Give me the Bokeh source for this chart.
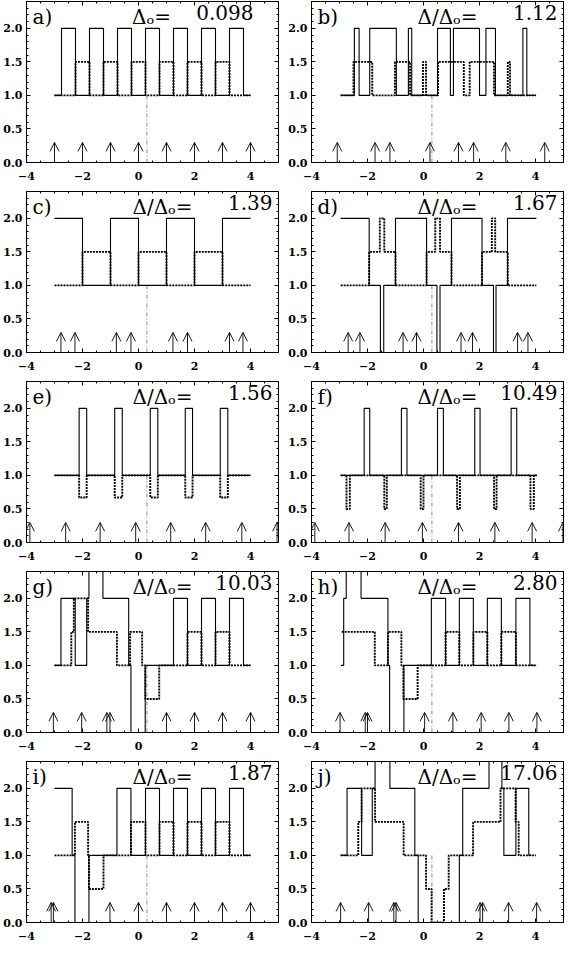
import numpy as np
from bokeh.plotting import figure
from bokeh.layouts import column, row
from bokeh.models import (Range1d, FixedTicker, LinearAxis, Label, Arrow, OpenHead,
                          ColumnDataSource, CustomJSTickFormatter, CustomLabelingPolicy)
from bokeh.embed import file_html
from bokeh.resources import INLINE

# ---------------- data ----------------
panel_letters = ["a)", "b)", "c)", "d)", "e)", "f)", "g)", "h)", "i)", "j)"]
ratio_prefix = ["Δₒ=", "Δ/Δₒ=", "Δ/Δₒ=", "Δ/Δₒ=", "Δ/Δₒ=",
                "Δ/Δₒ=", "Δ/Δₒ=", "Δ/Δₒ=", "Δ/Δₒ=", "Δ/Δₒ="]
ratio_values = ["0.098", "1.12", "1.39", "1.67", "1.56",
                "10.49", "10.03", "2.80", "1.87", "17.06"]

a_solid_x = [-3.0, -2.75, -2.25, -1.75, -1.25, -0.75, -0.25, 0.25, 0.75, 1.25, 1.75, 2.25, 2.75, 3.25, 3.75, 4.0]
a_solid_y = [1, 2, 1, 2, 1, 2, 1, 2, 1, 2, 1, 2, 1, 2, 1, 1]
a_dot_x = [-3.0, -2.25, -1.75, -1.25, -0.75, -0.25, 0.25, 0.75, 1.25, 1.75, 2.25, 2.75, 3.25, 4.0]
a_dot_y = [1, 1.5, 1, 1.5, 1, 1.5, 1, 1.5, 1, 1.5, 1, 1.5, 1, 1]
a_arrows = [-3.0, -2.0, -1.0, 0.0, 1.0, 2.0, 3.0, 4.0]

b_solid_x = [-2.96, -2.47, -2.3, -1.92, -0.97, -0.54, -0.42, 0.5, 0.96, 1.07, 2.0, 2.23, 2.57, 3.55, 3.69, 4.02]
b_solid_y = [1, 2, 1, 2, 1, 2, 1, 2, 1, 2, 1, 2, 1, 2, 1, 1]
b_dot_x = [-2.96, -2.5, -1.83, -1.02, -0.48, -0.02, 0.09, 0.52, 1.44, 1.65, 2.52, 3.01, 3.09, 4.02]
b_dot_y = [1, 1.5, 1, 1.5, 1, 1.5, 1, 1.5, 1, 1.5, 1, 1.5, 1, 1]
b_arrows = [-3.08, -1.73, -1.2, 0.23, 1.25, 1.79, 2.94, 4.33]

c_solid_x = [-3.0, -2.0, -1.0, 0.0, 1.0, 2.0, 3.0, 4.0]
c_solid_y = [2, 1, 2, 1, 2, 1, 2, 2]
c_dot_x = [-3.0, -2.0, -1.0, 0.0, 1.0, 2.0, 3.0, 4.0]
c_dot_y = [1, 1.5, 1, 1.5, 1, 1.5, 1, 1]
c_arrows = [-2.77, -2.27, -0.79, -0.27, 1.23, 1.75, 3.25, 3.73]

d_solid_x = [-2.96, -1.94, -1.54, -1.42, -1.0, 0.11, 0.48, 0.59, 1.0, 2.09, 2.5, 2.59, 3.0, 4.03]
d_solid_y = [2, 1, 0, 1, 2, 1, 0, 1, 2, 1, 0, 1, 2, 2]
d_dot_x = [-2.96, -1.94, -1.56, -1.4, -1.0, 0.11, 0.42, 0.59, 1.0, 2.09, 2.44, 2.56, 3.01, 4.03]
d_dot_y = [1, 1.5, 2, 1.5, 1, 1.5, 2, 1.5, 1, 1.5, 2, 1.5, 1, 1]
d_arrows = [-2.69, -2.27, -0.73, -0.25, 1.34, 1.75, 3.36, 3.73]

e_solid_x = [-3.0, -2.12, -1.85, -0.85, -0.58, 0.42, 0.69, 1.67, 1.93, 2.92, 3.19, 4.0]
e_solid_y = [1, 2, 1, 2, 1, 2, 1, 2, 1, 2, 1, 1]
e_dot_x = [-3.0, -2.12, -1.85, -0.85, -0.58, 0.42, 0.69, 1.67, 1.93, 2.92, 3.19, 4.0]
e_dot_y = [1, 0.67, 1, 0.67, 1, 0.67, 1, 0.67, 1, 0.67, 1, 1]
e_arrows = [-3.88, -2.6, -1.37, -0.1, 1.15, 2.4, 3.69, 4.95]

f_solid_x = [-2.96, -2.12, -1.92, -0.79, -0.59, 0.5, 0.71, 1.83, 2.02, 3.13, 3.33, 4.05]
f_solid_y = [1, 2, 1, 2, 1, 2, 1, 2, 1, 2, 1, 1]
f_dot_x = [-2.96, -2.75, -2.63, -1.4, -1.31, -0.1, 0.0, 1.2, 1.3, 2.52, 2.61, 3.82, 3.94, 4.05]
f_dot_y = [1, 0.5, 1, 0.5, 1, 0.5, 1, 0.5, 1, 0.5, 1, 0.5, 1, 1]
f_arrows = [-3.88, -2.66, -1.37, -0.04, 1.25, 2.55, 3.88, 4.98]

g_solid_x = [-3.0, -2.77, -2.26, -1.85, -1.77, -1.27, -0.35, -0.27, 0.24, 1.25, 1.75, 2.25, 2.75, 3.25, 3.75, 4.0]
g_solid_y = [1, 2, 1, 2, 3, 2, 1, 0, 1, 2, 1, 2, 1, 2, 1, 1]
g_dot_x = [-3.0, -2.4, -2.31, -1.8, -0.77, -0.3, 0.13, 0.24, 0.74, 1.75, 2.25, 2.75, 3.25, 4.0]
g_dot_y = [1, 1.5, 2, 1.5, 1, 1.5, 1, 0.5, 1, 1.5, 1, 1.5, 1, 1]
g_arrows = [-3.04, -2.03, -1.13, -1.02, 1.0, 2.0, 3.0, 4.0]

h_solid_x = [-2.95, -2.85, -2.76, -2.23, -1.27, -1.21, -0.7, 0.28, 0.79, 1.28, 1.78, 2.28, 2.78, 3.3, 3.8, 3.95]
h_solid_y = [1, 2, 3, 2, 1, 0, 1, 2, 1, 2, 1, 2, 1, 2, 1, 1]
h_dot_x = [-2.92, -1.74, -1.27, -0.79, -0.72, -0.21, 0.79, 1.28, 1.78, 2.28, 2.78, 3.3, 4.05]
h_dot_y = [1.5, 1, 1.5, 1, 0.5, 1, 1.5, 1, 1.5, 1, 1.5, 1, 1]
h_arrows = [-2.98, -2.08, -2.0, 0.04, 1.05, 2.06, 3.05, 4.05]

i_solid_x = [-3.0, -2.37, -2.27, -1.77, -0.77, -0.27, 0.25, 0.75, 1.25, 1.75, 2.25, 2.75, 3.25, 3.75, 4.0]
i_solid_y = [2, 1, 0, 1, 2, 1, 2, 1, 2, 1, 2, 1, 2, 1, 1]
i_dot_x = [-3.0, -2.27, -1.8, -1.77, -1.25, -0.27, 0.25, 0.75, 1.25, 1.75, 2.25, 2.75, 3.25, 4.0]
i_dot_y = [1, 1.5, 1, 0.5, 1, 1.5, 1, 1.5, 1, 1.5, 1, 1.5, 1, 1]
i_arrows = [-3.12, -3.04, -1.02, 0.0, 1.0, 2.0, 3.0, 4.0]

j_solid_x = [-2.96, -2.73, -2.21, -1.83, -1.73, -1.2, -0.31, -0.19, 1.28, 1.4, 2.34, 2.8, 2.87, 3.3, 3.76, 3.85]
j_solid_y = [1, 2, 1, 2, 3, 2, 1, 0, 1, 2, 3, 2, 1, 2, 1, 1]
j_dot_x = [-2.96, -2.33, -2.21, -1.73, -0.71, 0.09, 0.29, 0.73, 0.9, 1.77, 2.75, 3.29, 3.4, 4.02]
j_dot_y = [1, 1.5, 2, 1.5, 1, 0.5, 0, 0.5, 1, 1.5, 2, 1.5, 1, 1]
j_arrows = [-2.96, -1.96, -1.06, -0.98, 2.02, 2.11, 3.04, 4.04]

marker_x = 0.3      # thin reference line
marker_top = 1.0
arrow_tip = 0.3     # height of the position arrows

x_ticks = [-4, -2, 0, 2, 4]
y_ticks = [0.0, 0.5, 1.0, 1.5, 2.0]
X_LO, X_HI = -4, 5
Y_LO, Y_HI = 0, 2.4

solid_x = [a_solid_x, b_solid_x, c_solid_x, d_solid_x, e_solid_x, f_solid_x, g_solid_x, h_solid_x, i_solid_x, j_solid_x]
solid_y = [a_solid_y, b_solid_y, c_solid_y, d_solid_y, e_solid_y, f_solid_y, g_solid_y, h_solid_y, i_solid_y, j_solid_y]
dot_x = [a_dot_x, b_dot_x, c_dot_x, d_dot_x, e_dot_x, f_dot_x, g_dot_x, h_dot_x, i_dot_x, j_dot_x]
dot_y = [a_dot_y, b_dot_y, c_dot_y, d_dot_y, e_dot_y, f_dot_y, g_dot_y, h_dot_y, i_dot_y, j_dot_y]
arrows = [a_arrows, b_arrows, c_arrows, d_arrows, e_arrows, f_arrows, g_arrows, h_arrows, i_arrows, j_arrows]

# ---------------- styling ----------------
FW, FH = 252, 161
SERIF = "DejaVu Serif"
x_minor = list(np.arange(-4, 5.001, 0.5))
y_minor = list(np.arange(0, 2.401, 0.1))

xfmt = "return tick < 0 ? '\u2212' + Math.abs(tick) : String(tick);"
yfmt = "return tick.toFixed(1);"
hide_all = "for (const i of indices) indices.unset(i)"


def style_axis(ax, ticks, minor, fmt, standoff, show_labels=True):
    ax.ticker = FixedTicker(ticks=ticks, minor_ticks=minor)
    ax.formatter = CustomJSTickFormatter(code=fmt)
    ax.major_tick_in = 4
    ax.major_tick_out = 0
    ax.minor_tick_in = 2
    ax.minor_tick_out = 0
    ax.major_tick_line_color = "black"
    ax.minor_tick_line_color = "black"
    ax.axis_line_color = "black"
    ax.major_label_text_font = SERIF
    ax.major_label_text_font_style = "bold"
    ax.major_label_text_color = "black"
    if show_labels:
        ax.major_label_text_font_size = "11px"
        ax.major_label_standoff = standoff
    else:
        ax.major_label_text_font_size = "0px"
        ax.major_label_standoff = 0
        ax.major_label_policy = CustomLabelingPolicy(code=hide_all)


def make_panel(k):
    left = (k % 2 == 0)
    p = figure(frame_width=FW, frame_height=FH,
               min_border_left=23 if left else 28, min_border_right=5,
               min_border_top=1, min_border_bottom=28,
               x_range=Range1d(X_LO, X_HI), y_range=Range1d(Y_LO, Y_HI),
               output_backend="svg", toolbar_location=None,
               background_fill_color="white", border_fill_color="white",
               outline_line_color="black", outline_line_width=1)
    p.grid.visible = False
    style_axis(p.xaxis[0], x_ticks, x_minor, xfmt, 9)
    style_axis(p.yaxis[0], y_ticks, y_minor, yfmt, 4)
    top = LinearAxis()
    style_axis(top, x_ticks, x_minor, xfmt, 0, show_labels=False)
    p.add_layout(top, "above")
    right = LinearAxis()
    style_axis(right, y_ticks, y_minor, yfmt, 0, show_labels=False)
    p.add_layout(right, "right")

    # thin reference line
    p.segment(x0=[marker_x], y0=[Y_LO], x1=[marker_x], y1=[marker_top],
              line_color="#6e6e6e", line_width=0.8, line_dash="4 2 1 2")
    # dotted and solid step profiles
    p.step(x=dot_x[k], y=dot_y[k], mode="after", line_color="black",
           line_width=1.9, line_dash="2 1")
    p.step(x=solid_x[k], y=solid_y[k], mode="after", line_color="black",
           line_width=1.1)
    # arrows
    ax_ = arrows[k]
    src = ColumnDataSource(dict(x0=ax_, y0=[Y_LO] * len(ax_), x1=ax_, y1=[arrow_tip] * len(ax_)))
    p.add_layout(Arrow(source=src, x_start="x0", y_start="y0", x_end="x1", y_end="y1",
                       line_color="black", line_width=0.9,
                       end=OpenHead(size=9, line_color="black", line_width=0.9)))
    # labels
    p.add_layout(Label(x=X_LO, y=Y_HI, x_offset=6, y_offset=-3, text=panel_letters[k],
                       text_font=SERIF, text_font_size="20px", text_color="black",
                       text_align="left", text_baseline="top"))
    pre_off = -127 if k == 0 else -116
    num_off = -25 if k == 0 else -6
    p.add_layout(Label(x=X_HI, y=Y_HI, x_offset=pre_off, y_offset=-3, text=ratio_prefix[k],
                       text_font=SERIF, text_font_size="20px", text_color="black",
                       text_align="center", text_baseline="top"))
    p.add_layout(Label(x=X_HI, y=Y_HI, x_offset=num_off, y_offset=-3, text=ratio_values[k],
                       text_font=SERIF, text_font_size="20px", text_color="black",
                       text_align="right", text_baseline="top"))
    return p


panels = [make_panel(k) for k in range(10)]
layout = column(*[row(panels[2 * r], panels[2 * r + 1]) for r in range(5)])

open("out.html", "w").write(file_html(layout, INLINE))
